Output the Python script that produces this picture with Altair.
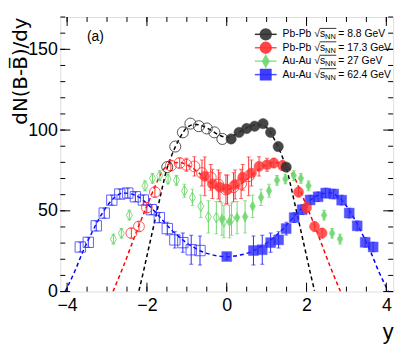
import altair as alt
import pandas as pd

# ---------------- data ----------------
# Pb-Pb sqrt(sNN) = 8.8 GeV : measured (filled) and reflected (open); errors hidden by markers
pb88_x = [0.11, 0.31, 0.50, 0.70, 0.91, 1.10, 1.29, 1.49]
pb88_v = [94.5, 98.6, 101.0, 102.4, 104.0, 98.6, 89.8, 77.1]
pb88r_x = [-0.11, -0.31, -0.50, -0.70, -0.91, -1.10, -1.29, -1.49]
pb88r_v = [94.5, 98.6, 101.0, 102.4, 104.0, 98.6, 89.8, 77.1]

# Pb-Pb sqrt(sNN) = 17.3 GeV
pb173_x = [-0.55, -0.36, -0.17, 0.02, 0.21, 0.40, 0.62, 0.81, 1.01, 1.18, 1.40, 1.80, 2.00, 2.20, 2.39]
pb173_v = [71.4, 66.7, 64.6, 63.2, 66.3, 70.7, 73.4, 77.5, 78.5, 79.6, 78.0, 61.6, 52.0, 40.3, 36.2]
pb173_e = [12, 9, 9, 9, 9, 8, 8, 6, 4, 3, 3, 3, 3, 3, 3]
pb173r_x = [0.55, 0.36, 0.17, -0.02, -0.21, -0.40, -0.62, -0.81, -1.01, -1.18, -1.40, -1.80, -2.00, -2.20, -2.39]
pb173r_v = [71.4, 66.7, 64.6, 63.2, 66.3, 70.7, 73.4, 77.5, 78.5, 79.6, 78.0, 61.6, 52.0, 40.3, 36.2]

# Au-Au sqrt(sNN) = 27 GeV
au27_x = [-0.12, 0.07, 0.26, 0.46, 0.65, 0.86, 1.06, 1.26, 1.47, 1.68, 1.86, 2.05, 2.44, 2.64, 2.84]
au27_v = [44.8, 43.3, 45.8, 46.3, 52.8, 58.3, 62.4, 68.9, 69.7, 71.8, 70.1, 65.5, 47.3, 36.1, 32.5]
au27_e = [10, 10, 10, 10, 7, 5, 4, 3, 3, 3, 3, 3, 3, 3, 3]
au27r_x = [0.12, -0.07, -0.26, -0.46, -0.65, -0.86, -1.06, -1.26, -1.47, -1.68, -1.86, -2.05, -2.44, -2.64, -2.84]
au27r_v = [44.8, 43.3, 45.8, 46.3, 52.8, 58.3, 62.4, 68.9, 69.7, 71.8, 70.1, 65.5, 47.3, 36.1, 32.5]

# Au-Au sqrt(sNN) = 62.4 GeV
au62_x = [0.00, 0.67, 0.89, 1.10, 1.30, 1.49, 1.69, 1.89, 2.09, 2.29, 2.48, 2.68, 2.88, 3.07, 3.27, 3.47, 3.67]
au62_v = [21.7, 25.4, 25.9, 30.3, 32.0, 39.0, 45.8, 50.7, 56.7, 58.7, 61.0, 60.4, 56.6, 48.6, 40.7, 30.5, 27.6]
au62_e = [2, 9, 9, 6, 5, 4, 3, 3, 3, 3, 3, 3, 3, 3, 3, 3, 3]
au62r_x = [-0.67, -0.89, -1.10, -1.30, -1.49, -1.69, -1.89, -2.09, -2.29, -2.48, -2.68, -2.88, -3.07, -3.27, -3.47, -3.67]
au62r_v = [25.4, 25.9, 30.3, 32.0, 39.0, 45.8, 50.7, 56.7, 58.7, 61.0, 60.4, 56.6, 48.6, 40.7, 30.5, 27.6]
au62r_e = [9, 9, 6, 5, 4, 3, 3, 3, 3, 3, 3, 3, 3, 3, 3, 3]

# dashed fit curves
fit88_x = [-2.2, -2.1, -2.0, -1.9, -1.8, -1.7, -1.6, -1.5, -1.4, -1.2, -1.0, -0.8, -0.6, -0.4, -0.2, 0.0,
           0.2, 0.4, 0.6, 0.8, 1.0, 1.2, 1.4, 1.5, 1.6, 1.7, 1.8, 1.9, 2.0, 2.1, 2.2]
fit88_v = [0.5, 11, 22, 33, 44, 55, 66, 76, 83, 94, 101.5, 103.5, 102.5, 100, 97, 95.5,
           97, 100, 102.5, 103.5, 101.5, 94, 83, 76, 66, 55, 44, 33, 22, 11, 0.5]
fit173_x = [-2.85, -2.8, -2.6, -2.4, -2.2, -2.0, -1.8, -1.6, -1.4, -1.2, -1.0, -0.8, -0.6, -0.4, -0.2, 0.0,
            0.2, 0.4, 0.6, 0.8, 1.0, 1.2, 1.4, 1.6, 1.8, 2.0, 2.2, 2.4, 2.6, 2.8, 2.85]
fit173_v = [0, 3, 15, 28, 41, 53, 65, 75, 79.5, 80, 78.5, 75.5, 71.5, 67.5, 64.5, 63.5,
            64.5, 67.5, 71.5, 75.5, 78.5, 80, 79.5, 75, 65, 53, 41, 28, 15, 3, 0]
fit62_x = [-4.05, -4.0, -3.8, -3.6, -3.4, -3.2, -3.0, -2.8, -2.6, -2.4, -2.2, -2.0, -1.8, -1.6, -1.4, -1.2,
           -1.0, -0.8, -0.6, -0.4, -0.2, 0.0, 0.2, 0.4, 0.6, 0.8, 1.0, 1.2, 1.4, 1.6, 1.8, 2.0, 2.2, 2.4,
           2.6, 2.8, 3.0, 3.2, 3.4, 3.6, 3.8, 4.0, 4.05]
fit62_v = [0, 2.5, 13, 25, 35.5, 45, 53, 58.5, 61, 60.5, 58.5, 54.5, 49.5, 44, 38.5, 34,
           30, 27, 24.5, 23, 22, 21.5, 22, 23, 24.5, 27, 30, 34, 38.5, 44, 49.5, 54.5, 58.5, 60.5,
           61, 58.5, 53, 45, 35.5, 25, 13, 2.5, 0]

# axis ticks and labels
x_labels = [-4, -2, 0, 2, 4]
x_minor = [-4.0, -3.5, -3.0, -2.5, -2.0, -1.5, -1.0, -0.5, 0.0, 0.5, 1.0, 1.5, 2.0, 2.5, 3.0, 3.5, 4.0]
y_labels = [0, 50, 100, 150]
y_minor = [0, 10, 20, 30, 40, 50, 60, 70, 80, 90, 100, 110, 120, 130, 140, 150, 160, 170]

# legend
leg_main = ["Pb-Pb √s", "Pb-Pb √s", "Au-Au √s", "Au-Au √s"]
leg_rest = ["= 8.8 GeV", "= 17.3 GeV", "= 27 GeV", "= 62.4 GeV"]

# ---------------- chart ----------------
W, H = 337, 278
FONT = "Liberation Sans"
xs = alt.Scale(domain=[-4.17, 4.17], nice=False, zero=False)
ys = alt.Scale(domain=[0, 170], nice=False, zero=False)
xaxis = alt.Axis(values=x_labels, ticks=False, grid=False, domain=False, labelFontSize=18,
                 labelFont=FONT, labelColor="black", labelPadding=5, format="d",
                 title="y", titleFont=FONT, titleFontSize=22, titleFontWeight="normal",
                 titleColor="black", titleX=W, titleY=48, titleAlign="right",
                 titleBaseline="alphabetic", titleAnchor="end")
yaxis = alt.Axis(values=y_labels, ticks=False, grid=False, domain=False, labelFontSize=18,
                 labelFont=FONT, labelColor="black", labelPadding=3,
                 title="dN(B-B\u0305)/dy", titleFont="DejaVu Sans", titleFontSize=20,
                 titleFontWeight="normal", titleColor="black", titleAngle=270, titleX=-40,
                 titleY=0, titleAlign="right", titleBaseline="middle", titleAnchor="end")

DIAMOND = "M0,-1L0.55,0L0,1L-0.55,0Z"


def frame(xv, vv, ev=None):
    d = {"x": xv, "v": vv}
    if ev is not None:
        d["lo"] = [a - b for a, b in zip(vv, ev)]
        d["hi"] = [a + b for a, b in zip(vv, ev)]
    return pd.DataFrame(d)


def X(f="x"):
    return alt.X(f, type="quantitative", scale=xs, axis=xaxis)


def Y(f="v"):
    return alt.Y(f, type="quantitative", scale=ys, axis=yaxis)


def series(df, color, shape, size, filled, opacity=0.85, bars=True):
    out = []
    if bars:
        out.append(alt.Chart(df).mark_rule(color=color, strokeWidth=1, clip=True).encode(
            x=X(), y=Y("lo"), y2="hi"))
        out.append(alt.Chart(df).mark_tick(color=color, orient="horizontal", size=4, thickness=1,
                                           clip=True).encode(x=X(), y=Y("lo")))
        out.append(alt.Chart(df).mark_tick(color=color, orient="horizontal", size=4, thickness=1,
                                           clip=True).encode(x=X(), y=Y("hi")))
    if filled:
        out.append(alt.Chart(df).mark_point(shape=shape, size=size, filled=True, fill=color,
                                            stroke=color, strokeWidth=0.5, opacity=opacity,
                                            clip=True).encode(x=X(), y=Y()))
    else:
        out.append(alt.Chart(df).mark_point(shape=shape, size=size, filled=False, stroke=color,
                                            strokeWidth=1, fillOpacity=0, opacity=opacity,
                                            clip=True).encode(x=X(), y=Y()))
    return out


def fit(xv, vv, color):
    return alt.Chart(frame(xv, vv)).mark_line(color=color, strokeDash=[4, 3], strokeWidth=1.5,
                                             interpolate="monotone", clip=True).encode(x=X(), y=Y())


BLACK, RED, GREEN, BLUE = "#333333", "#ff3030", "#6fd86f", "#2a2aff"

layers = []
layers.append(fit(fit62_x, fit62_v, "#0000ff"))
layers.append(fit(fit173_x, fit173_v, "#ff0000"))
layers.append(fit(fit88_x, fit88_v, "#000000"))

layers += series(frame(au27r_x, au27r_v, au27_e), GREEN, DIAMOND, 120, False, 0.9)
layers += series(frame(au27_x, au27_v, au27_e), GREEN, DIAMOND, 110, True, 0.9)
layers += series(frame(au62r_x, au62r_v, au62r_e), BLUE, "square", 110, False, 0.75)
layers += series(frame(au62_x, au62_v, au62_e), BLUE, "square", 100, True, 0.8)
layers += series(frame(pb173r_x, pb173r_v, pb173_e), RED, "circle", 120, False, 0.8)
layers += series(frame(pb173_x, pb173_v, pb173_e), RED, "circle", 105, True, 0.8)
layers += series(frame(pb88r_x, pb88r_v), BLACK, "circle", 125, False, 0.85, bars=False)
layers += series(frame(pb88_x, pb88_v), BLACK, "circle", 110, True, 0.9, bars=False)

# inner ticks (ROOT style) on all four sides
tx_minor = pd.DataFrame({"x": x_minor})
tx_major = pd.DataFrame({"x": [float(v) for v in x_labels]})
ty_minor = pd.DataFrame({"v": y_minor})
ty_major = pd.DataFrame({"v": y_labels})
for df, ln in ((tx_minor, 5), (tx_major, 9)):
    layers.append(alt.Chart(df).mark_rule(color="black", strokeWidth=1).encode(
        x=X(), y=alt.value(H), y2=alt.value(H - ln)))
    layers.append(alt.Chart(df).mark_rule(color="black", strokeWidth=1).encode(
        x=X(), y=alt.value(0), y2=alt.value(ln)))
for df, ln in ((ty_minor, 5), (ty_major, 10)):
    layers.append(alt.Chart(df).mark_rule(color="black", strokeWidth=1).encode(
        y=Y(), x=alt.value(0), x2=alt.value(ln)))
    layers.append(alt.Chart(df).mark_rule(color="black", strokeWidth=1).encode(
        y=Y(), x=alt.value(W), x2=alt.value(W - ln)))

# panel label
layers.append(alt.Chart(pd.DataFrame({"t": ["(a)"]})).mark_text(
    font=FONT, fontSize=14, align="left", baseline="middle", color="black").encode(
    text="t:N", x=alt.value(27), y=alt.value(20)))

# legend (drawn by hand to allow the sqrt(s_NN) subscript)
leg_colors = [BLACK, RED, GREEN, BLUE]
leg_line = ["#333333", "#ff5050", "#90e090", "#5050ff"]
leg_shape = ["circle", "circle", DIAMOND, "square"]
leg_size = [110, 110, 110, 100]
LX0, LX1, LM, LT = 197, 219, 208, 225
MAIN_FS, SUB_FS = 10.5, 7.5
w_main = (3.057 + 0.549 + 0.5) * MAIN_FS
w_sub = 2 * 0.722 * SUB_FS
for i in range(4):
    py = 17.5 + 13.6 * i
    row = pd.DataFrame({"main": [leg_main[i]], "sub": ["NN"], "rest": [leg_rest[i]]})
    base = alt.Chart(row)
    layers.append(base.mark_rule(color=leg_line[i], strokeWidth=1.5).encode(
        x=alt.value(LX0), x2=alt.value(LX1), y=alt.value(py)))
    layers.append(base.mark_point(shape=leg_shape[i], size=leg_size[i], filled=True,
                                  fill=leg_colors[i], stroke=leg_colors[i], opacity=0.9).encode(
        x=alt.value(LM), y=alt.value(py)))
    layers.append(base.mark_text(font=FONT, fontSize=MAIN_FS, align="left", baseline="middle",
                                 color="black").encode(text="main:N", x=alt.value(LT), y=alt.value(py)))
    layers.append(base.mark_text(font=FONT, fontSize=SUB_FS, align="left", baseline="middle",
                                 color="black").encode(text="sub:N", x=alt.value(LT + w_main),
                                                       y=alt.value(py + 3)))
    layers.append(base.mark_rule(color="black", strokeWidth=0.8).encode(
        x=alt.value(LT + w_main - 5.5), x2=alt.value(LT + w_main + w_sub + 0.5),
        y=alt.value(py - 6)))
    layers.append(base.mark_text(font=FONT, fontSize=MAIN_FS, align="left", baseline="middle",
                                 color="black").encode(text="rest:N",
                                                       x=alt.value(LT + w_main + w_sub + 2.5),
                                                       y=alt.value(py)))

chart = alt.layer(*layers).properties(
    width=W, height=H, autosize="none",
    padding={"left": 53, "top": 7, "right": 10, "bottom": 55},
).configure_view(stroke="black", strokeWidth=1).configure(background="white")

chart.save("out.html", embed_options={"renderer": "svg", "actions": False})
